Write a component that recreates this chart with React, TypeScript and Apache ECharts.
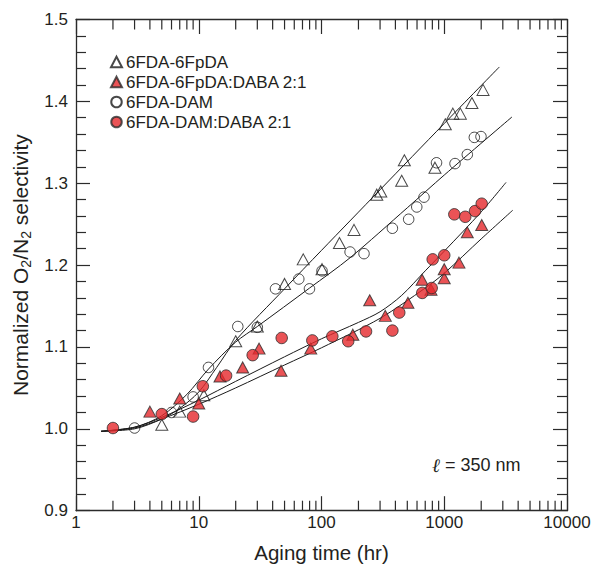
import React, { useEffect, useRef } from "react";
import * as echarts from "echarts";

const FONT = "'Liberation Sans', Arial, Helvetica, sans-serif";
const TEXT = "#231f20";
const AXIS = "#2b2b2b";
const RED = "#e5282c";

// 6FDA-6FpDA (open triangles)
const openTriX = [5, 7, 11, 20, 30, 50, 71, 101, 140, 184, 282, 304, 450, 473, 840, 1020, 1175, 1352, 1680, 2070];
const openTriY = [1.005, 1.021, 1.041, 1.107, 1.125, 1.177, 1.207, 1.195, 1.227, 1.243, 1.286, 1.290, 1.303, 1.328, 1.319, 1.372, 1.385, 1.385, 1.398, 1.414];

// 6FDA-6FpDA:DABA 2:1 (red triangles)
const redTriX = [4, 7, 10, 14.9, 22.8, 31, 46.8, 81.7, 180, 247, 331, 506, 660, 780, 1000, 1000, 1318, 1541, 2019];
const redTriY = [1.021, 1.037, 1.031, 1.064, 1.075, 1.098, 1.071, 1.098, 1.115, 1.157, 1.138, 1.154, 1.182, 1.170, 1.184, 1.195, 1.203, 1.240, 1.249];

// 6FDA-DAM (open circles)
const openCirX = [3, 6, 9, 12, 20.8, 30, 42.2, 65.3, 79.8, 101, 171, 222, 378, 513, 597, 684, 865, 1224, 1541, 1758, 1992];
const openCirY = [1.001, 1.020, 1.039, 1.075, 1.125, 1.124, 1.171, 1.183, 1.171, 1.193, 1.216, 1.214, 1.245, 1.256, 1.271, 1.283, 1.325, 1.324, 1.335, 1.356, 1.357];

// 6FDA-DAM:DABA 2:1 (red circles)
const redCirX = [2, 5, 9, 10.8, 16.7, 27.5, 47.4, 84.2, 122.5, 165, 230.5, 378, 430, 662, 790, 805, 1000, 1208, 1483, 1781, 2019];
const redCirY = [1.001, 1.018, 1.015, 1.052, 1.065, 1.090, 1.111, 1.108, 1.113, 1.107, 1.119, 1.120, 1.142, 1.166, 1.172, 1.207, 1.212, 1.262, 1.259, 1.266, 1.275];

// fitted curves
const fitOpenTriX = [1.6, 3, 5, 7, 10, 14, 20, 50, 100, 300, 1000, 2810];
const fitOpenTriY = [0.997, 1.0, 1.012, 1.025, 1.045, 1.075, 1.108, 1.171, 1.218, 1.292, 1.373, 1.442];

const fitOpenCirX = [1.6, 3, 5, 8, 12, 20, 30, 80, 171, 500, 1000, 3565];
const fitOpenCirY = [0.997, 1.002, 1.016, 1.042, 1.073, 1.106, 1.125, 1.172, 1.209, 1.27, 1.31, 1.381];

const fitRedCirX = [1.6, 3, 5, 10, 20, 50, 100, 200, 300, 450, 700, 1000, 2000, 3186];
const fitRedCirY = [0.997, 1.002, 1.014, 1.035, 1.058, 1.088, 1.11, 1.13, 1.143, 1.163, 1.193, 1.217, 1.265, 1.301];

const fitRedTriX = [1.6, 3, 5, 10, 20, 50, 100, 300, 700, 1000, 2000, 3614];
const fitRedTriY = [0.997, 1.001, 1.012, 1.03, 1.05, 1.078, 1.099, 1.135, 1.172, 1.19, 1.232, 1.267];

const minorTicksX = [2, 3, 4, 5, 6, 7, 8, 9, 20, 30, 40, 50, 60, 70, 80, 90, 200, 300, 400, 500, 600, 700, 800, 900, 2000, 3000, 4000, 5000, 6000, 7000, 8000, 9000];

const seriesNames = ["6FDA-6FpDA", "6FDA-6FpDA:DABA 2:1", "6FDA-DAM", "6FDA-DAM:DABA 2:1"];

const pairs = (xs: number[], ys: number[]) => xs.map((x, i) => [x, ys[i]]);

export default function App() {
  const ref = useRef<HTMLDivElement>(null);
  useEffect(() => {
    const chart = echarts.init(ref.current!, null, { renderer: "svg", width: 594, height: 566 });
    const axisLine = { show: true, lineStyle: { color: AXIS, width: 1.3 } };
    const tickStyle = { color: AXIS, width: 1.2 };
    const fitLine = (xs: number[], ys: number[]) => ({
      type: "line",
      data: pairs(xs, ys),
      showSymbol: false,
      symbol: "none",
      smooth: 0.3,
      silent: true,
      z: 2,
      lineStyle: { color: "#1a1a1a", width: 1 },
    });
    const option: any = {
      animation: false,
      backgroundColor: "#ffffff",
      textStyle: { fontFamily: FONT },
      grid: { left: 76, right: 27, top: 19.5, bottom: 55.3, containLabel: false, outerBoundsMode: "none" },
      legend: {
        data: seriesNames,
        orient: "vertical",
        left: 105,
        top: 48.5,
        itemWidth: 11,
        itemHeight: 10.5,
        itemGap: 3,
        selectedMode: false,
        textStyle: { fontSize: 17, color: TEXT, fontFamily: FONT, padding: [0, 0, 0, -1] },
      },
      xAxis: [
        {
          type: "log",
          logBase: 10,
          min: 1,
          max: 10000,
          position: "bottom",
          axisLine,
          axisTick: { show: true, inside: true, length: 14.5, lineStyle: tickStyle },
          axisLabel: {
            margin: 3,
            fontSize: 17,
            color: TEXT,
            fontFamily: FONT,
            formatter: (v: number) => String(Math.round(v)),
          },
          splitLine: { show: false },
          name: "Aging time (hr)",
          nameLocation: "middle",
          nameGap: 31,
          nameTextStyle: { fontSize: 20.5, color: TEXT, fontFamily: FONT },
        },
        {
          type: "log",
          logBase: 10,
          min: 1,
          max: 10000,
          position: "top",
          axisLine,
          axisTick: { show: true, inside: true, length: 14.5, lineStyle: tickStyle },
          axisLabel: { show: false },
          splitLine: { show: false },
        },
      ],
      yAxis: [
        {
          type: "value",
          min: 0.9,
          max: 1.5,
          interval: 0.1,
          position: "left",
          axisLine,
          axisTick: { show: true, inside: true, length: 14, lineStyle: tickStyle },
          minorTick: { show: true, splitNumber: 5, length: 10, lineStyle: tickStyle },
          axisLabel: {
            margin: 8,
            fontSize: 17,
            color: TEXT,
            fontFamily: FONT,
            formatter: (v: number) => v.toFixed(1),
          },
          splitLine: { show: false },
          minorSplitLine: { show: false },
          name: "Normalized O{sub|2}/N{sub|2} selectivity",
          nameLocation: "middle",
          nameGap: 43,
          nameTextStyle: {
            fontSize: 21,
            color: TEXT,
            fontFamily: FONT,
            lineHeight: 26,
            rich: {
              sub: { fontSize: 14, lineHeight: 26, verticalAlign: "bottom", color: TEXT, fontFamily: FONT },
            },
          },
        },
        {
          type: "value",
          min: 0.9,
          max: 1.5,
          interval: 0.1,
          position: "right",
          axisLine,
          axisTick: { show: true, inside: true, length: 14, lineStyle: tickStyle },
          minorTick: { show: true, splitNumber: 5, length: 10, lineStyle: tickStyle },
          axisLabel: { show: false },
          splitLine: { show: false },
          minorSplitLine: { show: false },
        },
      ],
      graphic: [
        {
          type: "text",
          left: 432,
          top: 455,
          silent: true,
          style: {
            text: "{i|ℓ} = 350 nm",
            fontSize: 18,
            fontFamily: FONT,
            fill: TEXT,
            rich: {
              i: { fontSize: 19, fontStyle: "italic", fontFamily: "'DejaVu Serif', serif", fill: TEXT },
            },
          },
        },
      ],
      series: [
        fitLine(fitOpenTriX, fitOpenTriY),
        fitLine(fitOpenCirX, fitOpenCirY),
        fitLine(fitRedCirX, fitRedCirY),
        fitLine(fitRedTriX, fitRedTriY),
        {
          type: "custom",
          silent: true,
          clip: false,
          z: 5,
          data: minorTicksX.map((v) => [v, 1.2]),
          encode: { x: 0, y: 1 },
          renderItem: (_p: any, api: any) => {
            const x = api.value(0);
            const b = api.coord([x, 0.9]);
            const t = api.coord([x, 1.5]);
            return {
              type: "group",
              children: [
                { type: "line", shape: { x1: b[0], y1: b[1], x2: b[0], y2: b[1] - 10 }, style: { stroke: AXIS, lineWidth: 1.2 } },
                { type: "line", shape: { x1: t[0], y1: t[1], x2: t[0], y2: t[1] + 10 }, style: { stroke: AXIS, lineWidth: 1.2 } },
              ],
            };
          },
        },
        {
          name: seriesNames[0],
          type: "scatter",
          data: pairs(openTriX, openTriY),
          symbol: "triangle",
          symbolSize: [12, 11],
          z: 3,
          itemStyle: { color: "rgba(255,255,255,0)", borderColor: "#1a1a1a", borderWidth: 1 },
        },
        {
          name: seriesNames[1],
          type: "scatter",
          data: pairs(redTriX, redTriY),
          symbol: "triangle",
          symbolSize: [12, 11],
          z: 4,
          itemStyle: { color: RED, borderColor: "#2a2a2a", borderWidth: 1 },
        },
        {
          name: seriesNames[2],
          type: "scatter",
          data: pairs(openCirX, openCirY),
          symbol: "circle",
          symbolSize: 10.5,
          z: 3,
          itemStyle: { color: "rgba(255,255,255,0)", borderColor: "#1a1a1a", borderWidth: 1 },
        },
        {
          name: seriesNames[3],
          type: "scatter",
          data: pairs(redCirX, redCirY),
          symbol: "circle",
          symbolSize: 11.5,
          z: 4,
          itemStyle: { color: RED, borderColor: "#2a2a2a", borderWidth: 1 },
        },
      ],
    };
    chart.setOption(option);
    return () => chart.dispose();
  }, []);
  return <div ref={ref} style={{ position: "fixed", left: 0, top: 0, width: 594, height: 566 }} />;
}
